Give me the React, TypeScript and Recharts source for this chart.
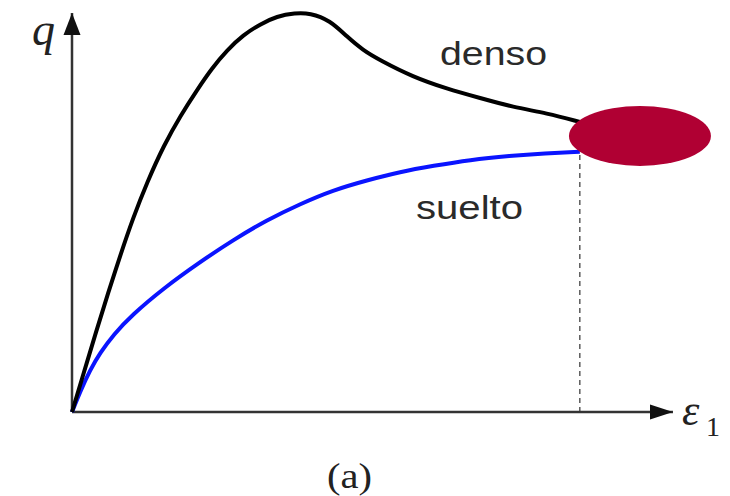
import React from 'react';
import {
  ComposedChart,
  Line,
  XAxis,
  YAxis,
  ReferenceLine,
  ReferenceDot,
} from 'recharts';

// strain (ε1) and deviator stress (q), arbitrary units 0-100
const densoStrain = [0, 2.0, 4.0, 6.0, 8.0, 10.15, 12.5, 15.3, 18.1, 20.8, 23.3, 25.8, 28.5, 31.3, 34.1, 37.1, 39.6, 42.9, 45.8, 48.4, 51.2, 56.7, 62.4, 67.9, 73.4, 79.0, 84.5];
const densoQ = [0, 10.0, 20.1, 29.8, 39.1, 48.6, 57.6, 66.9, 74.4, 80.7, 86.2, 90.7, 94.5, 97.2, 99.2, 100, 100, 98.2, 94.0, 90.7, 88.2, 84.0, 81.0, 78.7, 76.4, 74.9, 72.7];

const sueltoStrain = [0, 1.33, 3.0, 4.66, 6.99, 9.82, 15.3, 21.3, 26.8, 32.4, 37.9, 43.4, 49.1, 54.6, 60.1, 66.2, 72.9, 78.7, 84.5];
const sueltoQ = [0, 5.0, 10.5, 14.8, 19.5, 24.1, 31.1, 37.6, 43.1, 48.1, 52.1, 55.6, 58.1, 60.2, 61.7, 63.2, 64.2, 64.8, 65.2];

// critical state point
const criticalStrain = 84.5;
const criticalQ = 65.2;
const stateZone = { x: 94.5, y: 69.2 };

const densoData = densoStrain.map((x, i) => ({ x, y: densoQ[i] }));
const sueltoData = sueltoStrain.map((x, i) => ({ x, y: sueltoQ[i] }));

const AXIS = '#333';

const UpArrow = (props: any) => {
  const { cx, cy } = props;
  return <polygon points={`${cx},${cy} ${cx - 8.5},${cy + 22} ${cx + 8.5},${cy + 22}`} fill="#111" />;
};

const RightArrow = (props: any) => {
  const { cx, cy } = props;
  return <polygon points={`${cx},${cy} ${cx - 23},${cy - 7.5} ${cx - 23},${cy + 7.5}`} fill="#111" />;
};

const Zone = (props: any) => {
  const { cx, cy } = props;
  return <ellipse cx={cx} cy={cy} rx={71} ry={30} fill="#b00033" />;
};

export default function App() {
  return (
    <div style={{ position: 'absolute', left: 0, top: 0, width: 730, height: 496, background: '#fff' }}>
      <ComposedChart
        width={730}
        height={496}
        margin={{ top: 13, right: 57, bottom: 84, left: 72 }}
      >
        <XAxis type="number" dataKey="x" domain={[0, 100]} hide />
        <YAxis type="number" dataKey="y" domain={[0, 100]} hide />
        <ReferenceLine y={0} stroke={AXIS} strokeWidth={2.5} />
        <ReferenceLine x={0} stroke={AXIS} strokeWidth={2.5} />
        <ReferenceLine
          segment={[
            { x: criticalStrain, y: 0 },
            { x: criticalStrain, y: criticalQ },
          ]}
          stroke="#333"
          strokeWidth={1.2}
          strokeDasharray="5 4"
        />
        <Line
          data={sueltoData}
          dataKey="y"
          type="basis"
          stroke="#0a14ff"
          strokeWidth={4}
          dot={false}
          isAnimationActive={false}
        />
        <Line
          data={densoData}
          dataKey="y"
          type="basis"
          stroke="#000"
          strokeWidth={4}
          dot={false}
          isAnimationActive={false}
        />
        <ReferenceDot x={0} y={100} shape={UpArrow} ifOverflow="visible" />
        <ReferenceDot x={100} y={0} shape={RightArrow} ifOverflow="visible" />
        <ReferenceDot x={stateZone.x} y={stateZone.y} shape={Zone} ifOverflow="visible" />
      </ComposedChart>
      <svg
        width={730}
        height={496}
        style={{ position: 'absolute', left: 0, top: 0, pointerEvents: 'none' }}
      >
        <text x={32} y={45} fontFamily="Liberation Serif" fontStyle="italic" fontSize={46} fill="#222">q</text>
        <text x={682} y={425} fontFamily="Liberation Serif" fontStyle="italic" fontSize={44} fill="#222">ε</text>
        <text x={706} y={436} fontFamily="Liberation Serif" fontSize={28} fill="#222">1</text>
        <text x={440} y={65} fontFamily="Liberation Sans" fontSize={34} fill="#2a2a2a" textLength={107} lengthAdjust="spacingAndGlyphs">denso</text>
        <text x={416} y={219} fontFamily="Liberation Sans" fontSize={34} fill="#2a2a2a" textLength={107} lengthAdjust="spacingAndGlyphs">suelto</text>
        <text x={327} y={488} fontFamily="Liberation Serif" fontSize={36} fill="#222" textLength={45} lengthAdjust="spacingAndGlyphs">(a)</text>
      </svg>
    </div>
  );
}
